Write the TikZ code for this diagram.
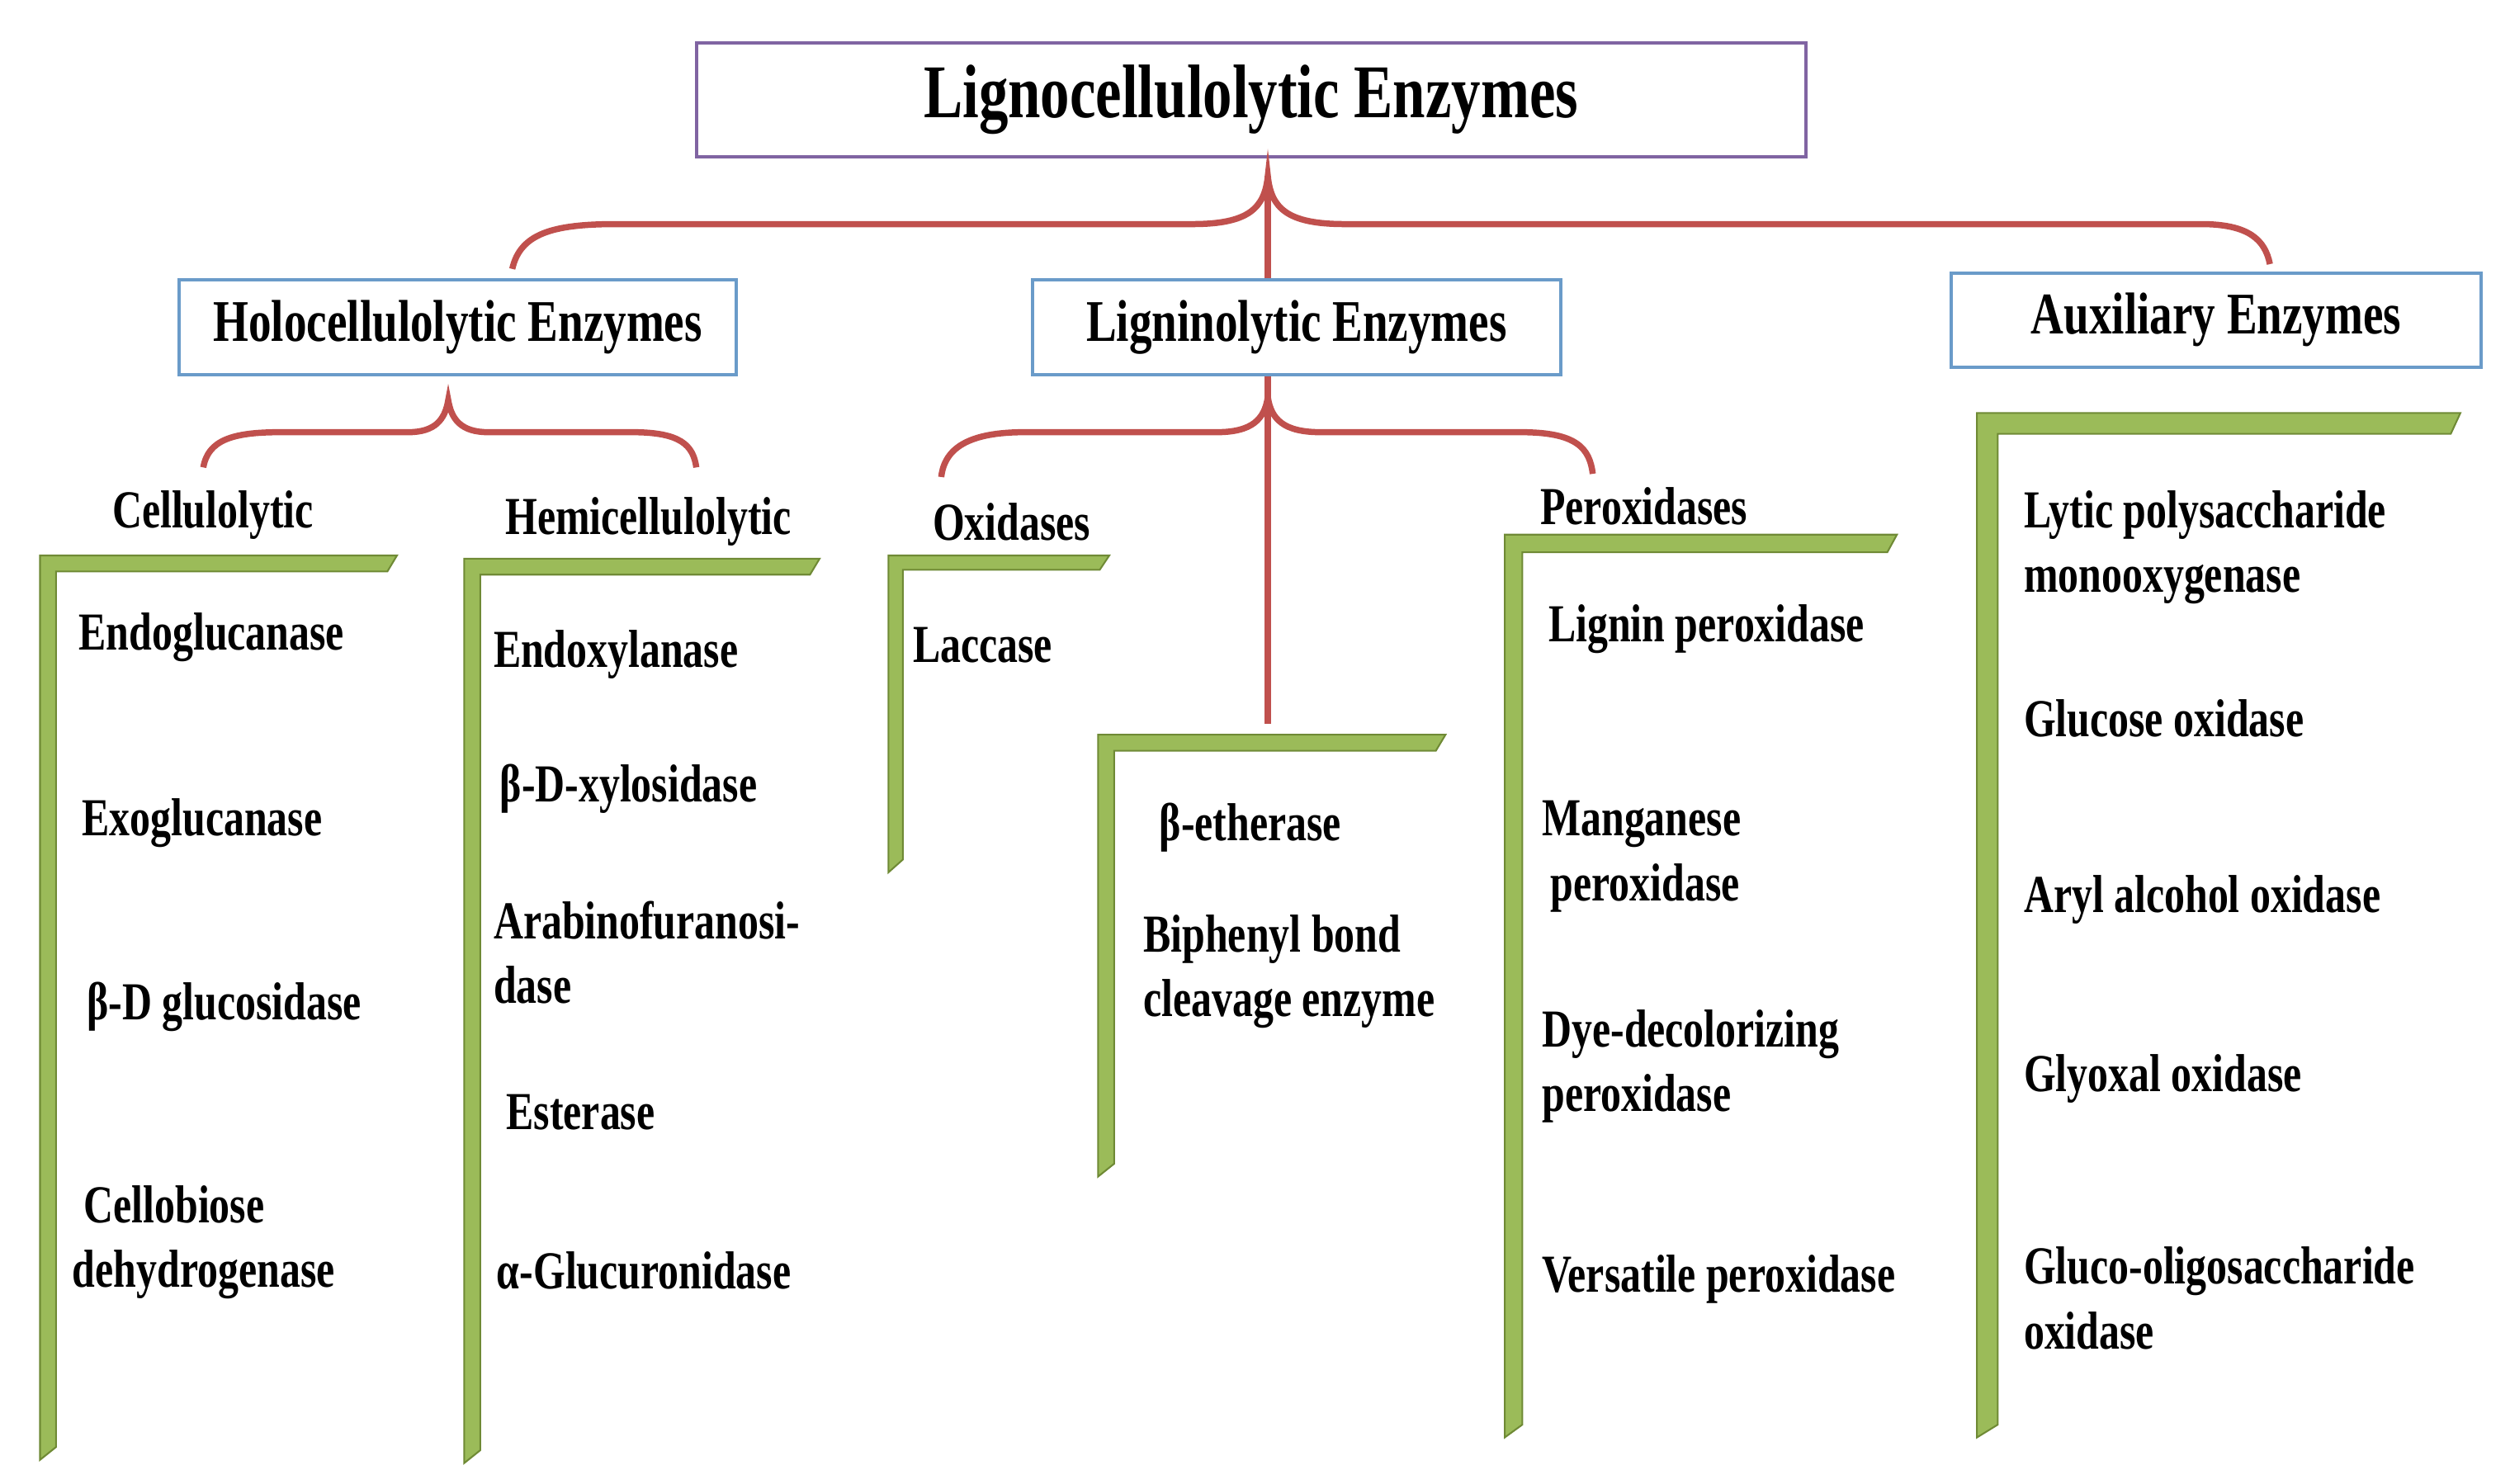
\documentclass[tikz,border=0pt]{standalone}
\usepackage{fontspec}
\setmainfont{Liberation Serif}[FakeStretch=0.77]
\definecolor{brc}{HTML}{C0504D}
\definecolor{gfill}{HTML}{9BBB59}
\definecolor{gline}{HTML}{6F8A35}
\definecolor{bbox}{HTML}{6A9BC9}
\definecolor{pbox}{HTML}{8064A2}
\tikzset{
  brace/.style={draw=brc,line width=2.2pt},
  gl/.style={fill=gfill,draw=gline,line width=0.6pt},
  cat/.style={draw=bbox,line width=1.2pt,minimum height=59*0.02cm,font=\fontsize{21}{25}\selectfont\bfseries},
  sub/.style={font=\fontsize{19}{23}\selectfont\bfseries},
  item/.style={anchor=west,align=left,inner sep=0pt,font=\fontsize{19}{23}\selectfont\bfseries}
}
\newcommand\gshape[5]{\path[gl] (#1,#3) -- (#2,#3) -- ({#2-6},{#3+#5}) -- ({#1+#5},{#3+#5}) -- ({#1+#5},{#4-8}) -- (#1,#4) -- cycle;}
\begin{document}
\begin{tikzpicture}[x=0.02cm,y=-0.02cm]
\useasboundingbox (0,0) rectangle (1568,926.6);
% boxes
\node[draw=pbox,line width=1.2pt,minimum width=693*0.02cm,minimum height=71*0.02cm,font=\fontsize{27}{32}\selectfont\bfseries] (top) at (781.5,62.5) {Lignocellulolytic Enzymes};
\node[cat,minimum width=348*0.02cm] (holo) at (286,204.5) {Holocellulolytic Enzymes};
\node[cat,minimum width=330*0.02cm] (lig) at (810,204.5) {Ligninolytic Enzymes};
\node[cat,minimum width=331*0.02cm] (aux) at (1384.5,200) {Auxiliary Enzymes};
% braces
\coordinate (tp) at (792,110);
\draw[brace] (320,168) .. controls (325,146) and (345,140) .. (385,140) -- (745,140) .. controls (780,140) and (790,130) .. (tp) .. controls (794,130) and (804,140) .. (840,140) -- (1375,140) .. controls (1405,140) and (1415,150) .. (1418,165);
\draw[brace] (tp) -- (lig.north -| tp);
\coordinate (hp) at (280,250);
\draw[brace] (127,292) .. controls (130,275) and (145,270) .. (175,270) -- (255,270) .. controls (272,270) and (278,262) .. (hp) .. controls (282,262) and (288,270) .. (305,270) -- (395,270) .. controls (425,270) and (433,278) .. (435,292);
\coordinate (lp) at (792,248);
\draw[brace] (lig.south -| lp) -- (lp);
\draw[brace] (588,298) .. controls (590,280) and (605,270) .. (640,270) -- (760,270) .. controls (782,270) and (790,262) .. (lp) .. controls (794,262) and (802,270) .. (825,270) -- (950,270) .. controls (985,270) and (993,280) .. (995,296);
\coordinate (le) at (792,452);
\draw[brace] (lp) -- (le);
% green L shapes
\gshape{25}{248}{347}{912}{10}
\gshape{290}{512}{349}{914}{10}
\gshape{555}{693}{347}{545}{9}
\gshape{686}{903}{459}{735}{10}
\gshape{940}{1185}{334}{898}{11}
\gshape{1235}{1537}{258}{898}{13}
% sub labels
\node[sub] (cel) at (133,322) {Cellulolytic};
\node[sub] (hem) at (405,326) {Hemicellulolytic};
\node[sub] (oxi) at (632,326) {Oxidases};
\node[sub] (per) at (1027,316) {Peroxidases};
% items
\node[item] (c1) at (49,398) {Endoglucanase};
\node[item] (c2) at (51,514) {Exoglucanase};
\node[item] (c3) at (54,629) {β-D glucosidase};
\node[item] (c4) at (45,776) {\hspace*{4pt}Cellobiose\\dehydrogenase};
\node[item] (h1) at (308,409) {Endoxylanase};
\node[item] (h2) at (312,493) {β-D-xylosidase};
\node[item] (h3) at (308,595) {Arabinofuranosi-\\dase};
\node[item] (h4) at (316,695) {Esterase};
\node[item] (h5) at (310,794) {α-Glucuronidase};
\node[item] (o1) at (570,403) {Laccase};
\node[item] (e1) at (724,517) {β-etherase};
\node[item] (e2) at (714,607) {Biphenyl bond\\cleavage enzyme};
\node[item] (p1) at (967,393) {Lignin peroxidase};
\node[item] (p2) at (963,535) {Manganese\\\hspace*{3pt}peroxidase};
\node[item] (p3) at (963,666) {Dye-decolorizing\\peroxidase};
\node[item] (p4) at (963,799) {Versatile peroxidase};
\node[item] (a1) at (1264,342) {Lytic polysaccharide\\monooxygenase};
\node[item] (a2) at (1264,449) {Glucose oxidase};
\node[item] (a3) at (1264,562) {Aryl alcohol oxidase};
\node[item] (a4) at (1264,674) {Glyoxal oxidase};
\node[item] (a5) at (1264,811) {Gluco-oligosaccharide\\oxidase};
\end{tikzpicture}
\end{document}
